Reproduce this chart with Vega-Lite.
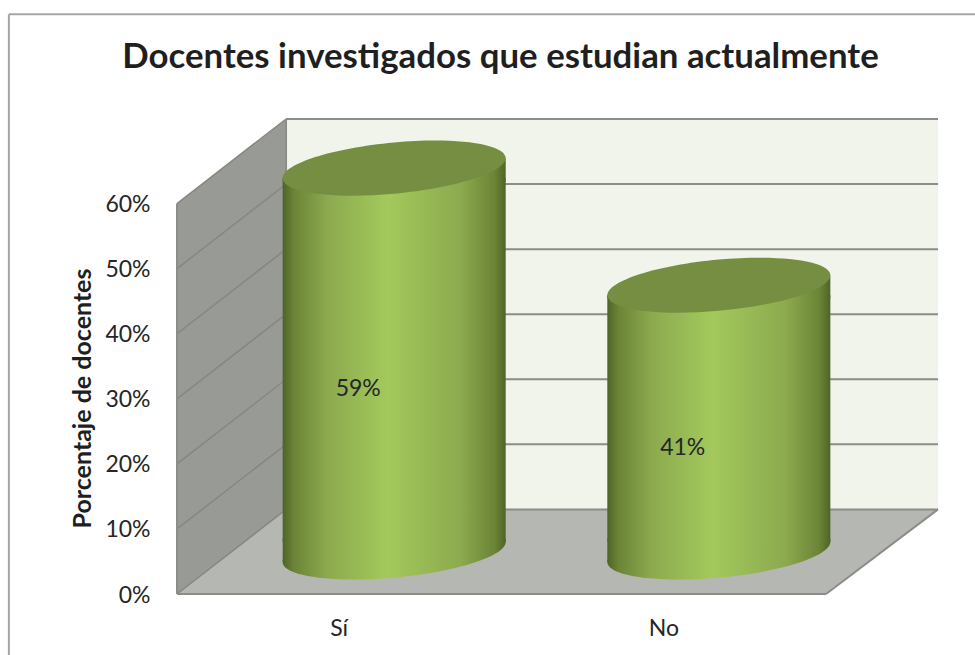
{
"$schema":"https://vega.github.io/schema/vega-lite/v6.json",
"width":761,"height":475,
"autosize":{"type":"none"},
"padding":{"left":177,"top":119,"right":37,"bottom":61},
"background":"white",
"config":{"view":{"stroke":null}},
"title":{"text":"Docentes investigados que estudian actualmente","font":"Lato","fontSize":34.8,"fontWeight":"bold","color":"#1f1f1f","anchor":"middle","dx":-57,"offset":0,"dy":90,"baseline":"alphabetic"},
"datasets":{
"respuestas":[{"opcion":"Sí","valor":59,"etiqueta":"59%"},{"opcion":"No","valor":41,"etiqueta":"41%"}],
"superficies":[
{"superficie":"posterior","pos":0.336,"sup":73,"inf":13},{"superficie":"posterior","pos":2.345,"sup":73,"inf":13},
{"superficie":"lateral","pos":0,"sup":60,"inf":0},{"superficie":"lateral","pos":0.336,"sup":73,"inf":13},
{"superficie":"piso","pos":0,"sup":0,"inf":0},{"superficie":"piso","pos":0.336,"sup":13,"inf":0},{"superficie":"piso","pos":2,"sup":13,"inf":0},{"superficie":"piso","pos":2.345,"sup":13,"inf":13}],
"rejilla":[{"valor":10,"fondo":23},{"valor":20,"fondo":33},{"valor":30,"fondo":43},{"valor":40,"fondo":53},{"valor":50,"fondo":63},{"valor":60,"fondo":73},{"valor":0,"fondo":13}],
"bordes":[{"a":0,"b":2,"c":0,"d":0},{"a":2,"b":2.345,"c":0,"d":13},{"a":0,"b":0,"c":0,"d":60},{"a":0.336,"b":0.336,"c":13,"d":73}],
"marco":[{"a":-0.518,"b":2.46,"c":89.1,"d":89.1},{"a":-0.518,"b":-0.518,"c":-9.5,"d":89.1}]
},
"resolve":{"scale":{"x":"independent","y":"independent"},"axis":{"x":"independent","y":"independent"}},
"layer":[
{"layer":[
 {"data":{"name":"superficies"},"mark":{"type":"area","line":false,"opacity":1},
  "encoding":{
   "x":{"field":"pos","type":"quantitative","scale":{"domain":[0,2.345],"nice":false,"zero":false},"axis":null},
   "y":{"field":"sup","type":"quantitative","scale":{"domain":[0,73],"nice":false},
     "axis":{"values":[0,10,20,30,40,50,60],"labelExpr":"datum.value+'%'","ticks":false,"domain":false,"grid":false,"labelPadding":27,"labelOffset":1,"labelFont":"Lato","labelFontSize":23,"labelColor":"#262626",
       "title":"Porcentaje de docentes","titleFont":"Lato","titleFontSize":25,"titleFontWeight":"bold","titleColor":"#1f1f1f","titleX":-95,"titleY":279,"titleAngle":270,"titleAlign":"center","titleBaseline":"middle"}},
   "y2":{"field":"inf"},
   "color":{"field":"superficie","type":"nominal","legend":null,"scale":{"domain":["posterior","lateral","piso"],"range":["#F1F4EB","#989A95","#B5B7B2"]}}}},
 {"data":{"name":"rejilla"},"mark":{"type":"rule","color":"#85877F","strokeWidth":1.5},
  "encoding":{"x":{"datum":0,"type":"quantitative"},"x2":{"datum":0.336},"y":{"field":"valor","type":"quantitative"},"y2":{"field":"fondo"}}},
 {"data":{"name":"rejilla"},"mark":{"type":"rule","color":"#8C8C88","strokeWidth":2},
  "encoding":{"x":{"datum":0.336,"type":"quantitative"},"x2":{"datum":2.345},"y":{"field":"fondo","type":"quantitative"}}},
 {"data":{"name":"bordes"},"mark":{"type":"rule","color":"#8C8C88","strokeWidth":2},
  "encoding":{"x":{"field":"a","type":"quantitative"},"x2":{"field":"b"},"y":{"field":"c","type":"quantitative"},"y2":{"field":"d"}}},
 {"data":{"name":"marco"},"mark":{"type":"rule","color":"#A6A6A6","strokeWidth":2},
  "encoding":{"x":{"field":"a","type":"quantitative"},"x2":{"field":"b"},"y":{"field":"c","type":"quantitative"},"y2":{"field":"d"}}}
]},
{"data":{"name":"respuestas"},
 "encoding":{
   "x":{"field":"opcion","type":"nominal","sort":["Sí","No"],"scale":{"range":[0,649],"paddingInner":0.313,"paddingOuter":0.156},
     "axis":{"orient":"bottom","title":null,"labelAngle":0,"ticks":false,"domain":false,"grid":false,"labelPadding":23,"labelFont":"Lato","labelFontSize":23,"labelColor":"#262626"}}
 },
 "layer":[
 {"mark":{"type":"point","filled":true,"opacity":1,"size":49729,"xOffset":55,"yOffset":-42,"shape":"M-1,0.09 A1.004,0.229,-5.43,1,1,1,-0.09 A1.004,0.229,-5.43,1,1,-1,0.09 Z",
   "fill":{"gradient":"linear","x1":0,"y1":0,"x2":1,"y2":0,"stops":[{"offset":0,"color":"#4E6428"},{"offset":0.05,"color":"#6B8437"},{"offset":0.2,"color":"#8CAA4E"},{"offset":0.47,"color":"#A3C95C"},{"offset":0.8,"color":"#8CAA4E"},{"offset":0.95,"color":"#6B8437"},{"offset":1,"color":"#4E6428"}]}},
  "encoding":{"y":{"datum":0,"type":"quantitative","scale":{"domain":[0,73],"nice":false},"axis":null}}},
 {"mark":{"type":"point","filled":true,"opacity":1,"size":49729,"xOffset":55,"yOffset":-42,"shape":"M-1,0.09 L-1,-0.12 L1,-0.12 L1,-0.09 Z",
   "fill":{"gradient":"linear","x1":0,"y1":0,"x2":1,"y2":0,"stops":[{"offset":0,"color":"#4E6428"},{"offset":0.05,"color":"#6B8437"},{"offset":0.2,"color":"#8CAA4E"},{"offset":0.47,"color":"#A3C95C"},{"offset":0.8,"color":"#8CAA4E"},{"offset":0.95,"color":"#6B8437"},{"offset":1,"color":"#4E6428"}]}},
  "encoding":{"y":{"datum":0,"type":"quantitative"}}},
 {"mark":{"type":"bar","xOffset":55,"x2Offset":55,"yOffset":-32,"y2Offset":-52,
   "fill":{"gradient":"linear","x1":0,"y1":0,"x2":1,"y2":0,"stops":[{"offset":0,"color":"#4E6428"},{"offset":0.05,"color":"#6B8437"},{"offset":0.2,"color":"#8CAA4E"},{"offset":0.47,"color":"#A3C95C"},{"offset":0.8,"color":"#8CAA4E"},{"offset":0.95,"color":"#6B8437"},{"offset":1,"color":"#4E6428"}]}},
  "encoding":{"y":{"field":"valor","type":"quantitative"},"y2":{"datum":0}}},
 {"mark":{"type":"point","filled":true,"opacity":1,"size":49729,"xOffset":55,"yOffset":-42,"shape":"M-1,0.09 L1,-0.09 L1,0.12 L-1,0.12 Z",
   "fill":{"gradient":"linear","x1":0,"y1":0,"x2":1,"y2":0,"stops":[{"offset":0,"color":"#4E6428"},{"offset":0.05,"color":"#6B8437"},{"offset":0.2,"color":"#8CAA4E"},{"offset":0.47,"color":"#A3C95C"},{"offset":0.8,"color":"#8CAA4E"},{"offset":0.95,"color":"#6B8437"},{"offset":1,"color":"#4E6428"}]}},
  "encoding":{"y":{"field":"valor","type":"quantitative"}}},
 {"mark":{"type":"point","filled":true,"opacity":1,"size":49729,"xOffset":55,"yOffset":-42,"shape":"M-1,0.09 A1.004,0.229,-5.43,1,1,1,-0.09 A1.004,0.229,-5.43,1,1,-1,0.09 Z","fill":"#768E41"},
  "encoding":{"y":{"field":"valor","type":"quantitative"}}}
 ]},
{"data":{"name":"respuestas"},
 "mark":{"type":"text","font":"Lato","fontSize":23,"color":"#262626","xOffset":19,"yOffset":-13,"baseline":"middle","align":"center"},
 "encoding":{
   "x":{"field":"opcion","type":"nominal","sort":["Sí","No"],"scale":{"range":[0,649],"paddingInner":0.313,"paddingOuter":0.156},"axis":null},
   "y":{"field":"valor","type":"quantitative","scale":{"domain":[0,146],"nice":false},"axis":null},
   "text":{"field":"etiqueta","type":"nominal"}
 }}
]
}
